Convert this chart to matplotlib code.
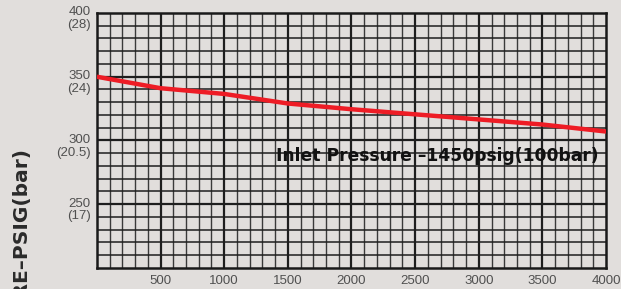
import numpy as np
import matplotlib.pyplot as plt

# flow (x) vs outlet pressure psig (y)
flow = [0, 500, 1000, 1500, 2000, 2500, 3000, 3500, 4000]
pressure = [350, 341, 336.5, 329, 324.5, 320.5, 316.5, 312.5, 307]

x_ticks = [500, 1000, 1500, 2000, 2500, 3000, 3500, 4000]
y_ticks = [250, 300, 350, 400]
y_psig = ['250', '300', '350', '400']
y_bar = ['(17)', '(20.5)', '(24)', '(28)']

bg = '#e1dedc'
fig = plt.figure(figsize=(6.21, 2.89), dpi=100, facecolor=bg)
ax = fig.add_axes([0.156, 0.073, 0.820, 0.882], facecolor=bg)

ax.set_xlim(0, 4000)
ax.set_ylim(200, 400)

# grid: minor every 100 / 10, major every 500
for x in np.arange(100, 4000, 100):
    if x % 500 == 0:
        ax.axvline(x, color='#1e1e1e', lw=1.6, zorder=1)
    else:
        ax.axvline(x, color='#3a3a3a', lw=1.0, zorder=1)
for y in np.arange(210, 400, 10):
    lw = 1.6 if y % 50 == 0 else 1.1
    ax.axhline(y, color='#1e1e1e', lw=lw, zorder=1)

ax.plot(flow, pressure, color='#ee1c25', lw=3.2, solid_capstyle='butt', zorder=3)

ax.set_xticks(x_ticks)
ax.set_yticks(y_ticks)
ax.set_yticklabels([])
ax.tick_params(length=0, labelsize=9.5, labelcolor='#505050', pad=5)
for lab in ax.get_xticklabels():
    lab.set_family('Liberation Sans')

# two-line y labels: psig on the tick, bar underneath
ytr = ax.get_yaxis_transform()
for v, p, b in zip(y_ticks, y_psig, y_bar):
    ax.text(-0.012, v + 0.5, p, transform=ytr, ha='right', va='center',
            fontsize=9.5, color='#505050', family='Liberation Sans')
    ax.text(-0.012, v - 9.5, b, transform=ytr, ha='right', va='center',
            fontsize=9.5, color='#505050', family='Liberation Sans')

for s in ax.spines.values():
    s.set_color('#1a1a1a')
    s.set_linewidth(1.8)

ax.text(2672, 288, 'Inlet Pressure \u20131450psig(100bar)', fontsize=12.3,
        fontweight='bold', color='#111111', ha='center', va='center', zorder=4)

fig.text(0.036, 0.485, 'OUTLET PRESSURE\u2013PSIG(bar)', rotation=90, fontsize=14.5,
         fontweight='bold', color='#2a2a2a', ha='center', va='top')

fig.savefig('out.png', dpi=100, facecolor=bg)
